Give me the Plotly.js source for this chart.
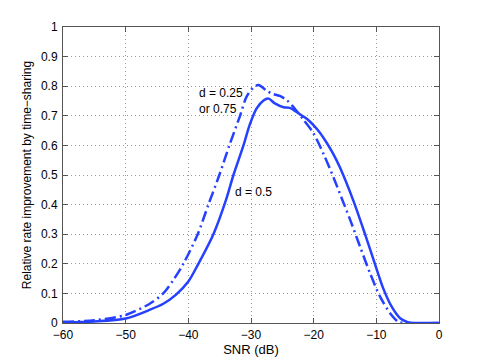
<!DOCTYPE html>
<html>
<head>
<meta charset="utf-8">
<script src="https://cdn.plot.ly/plotly-3.0.1.min.js"></script>
<style>
  html, body { margin: 0; padding: 0; background: #fff; }
  #chart { width: 485px; height: 364px; }
</style>
</head>
<body>
<div id="chart"></div>
<script>
// SNR (dB) vs relative rate improvement
const snrHalf = [-60, -55, -50, -46.1, -44, -42, -40, -38.4, -36.0, -34.0, -32.8, -31.2, -30.2, -29.1, -28.0, -27.2, -26.2, -24.8, -23.8, -22.2, -21.1, -20.0, -19.0, -17.9, -16.9, -15.8, -13.7, -11.8, -10.2, -8.9, -7.55, -6.2, -4.9, -4, 0];
const rateHalf = [0.002, 0.005, 0.015, 0.045, 0.065, 0.095, 0.14, 0.2, 0.3, 0.415, 0.5, 0.6, 0.67, 0.725, 0.752, 0.758, 0.742, 0.729, 0.727, 0.705, 0.69, 0.668, 0.643, 0.608, 0.572, 0.525, 0.415, 0.3, 0.198, 0.117, 0.055, 0.016, 0.002, 0, 0];

const snrQuarter = [-60, -55, -50, -46.1, -44.0, -42.4, -40.8, -38.5, -36.8, -35.05, -33.45, -31.75, -30.7, -29.6, -28.8, -27.5, -26.7, -25.4, -24.3, -23.5, -21.6, -20.0, -18.4, -16.8, -15.5, -14.2, -12.6, -11.0, -9.4, -7.8, -6.5, -5.5, 0];
const rateQuarter = [0.004, 0.009, 0.027, 0.066, 0.1, 0.145, 0.2, 0.3, 0.4, 0.5, 0.6, 0.7, 0.765, 0.796, 0.804, 0.785, 0.775, 0.767, 0.753, 0.736, 0.686, 0.64, 0.57, 0.49, 0.42, 0.35, 0.258, 0.168, 0.089, 0.033, 0.004, 0, 0];

const xTicks = [-60, -50, -40, -30, -20, -10, 0];
const yTicks = [0, 0.1, 0.2, 0.3, 0.4, 0.5, 0.6, 0.7, 0.8, 0.9, 1];

const blue = '#2540ff';

const traces = [
    {
        x: snrQuarter, y: rateQuarter, type: 'scatter', mode: 'lines',
        line: {color: blue, width: 2.5, dash: '11px,4px,2px,4px', shape: 'spline', smoothing: 0.8}
    },
    {
        x: snrHalf, y: rateHalf, type: 'scatter', mode: 'lines',
        line: {color: blue, width: 2.5, shape: 'spline', smoothing: 0.8}
    }
];

const axisStyle = {
    showline: true, mirror: 'ticks', linecolor: '#555', linewidth: 1,
    ticks: 'inside', ticklen: 5, tickcolor: '#555',
    showgrid: true, gridcolor: '#9a9a9a', griddash: '1px,3px', gridwidth: 1,
    zeroline: false, tickfont: {size: 12, color: '#000'}
};

const layout = {
    width: 485, height: 364,
    margin: {l: 63, r: 46, t: 27, b: 41},
    paper_bgcolor: '#fff', plot_bgcolor: '#fff',
    font: {family: 'Liberation Sans, Arial, sans-serif', color: '#000'},
    showlegend: false,
    xaxis: Object.assign({}, axisStyle, {
        range: [-60, 0], tickvals: xTicks, ticklabelstandoff: 1,
        title: {text: 'SNR (dB)', font: {size: 13}, standoff: 2}
    }),
    yaxis: Object.assign({}, axisStyle, {
        range: [0, 1], tickvals: yTicks, ticklabelstandoff: 2,
        title: {text: 'Relative rate improvement by time\u2212sharing', font: {size: 12}, standoff: 6}
    }),
    annotations: [
        {x: -38.6, y: 0.75, xref: 'x', yref: 'y', xanchor: 'left', yanchor: 'middle', align: 'left',
         text: 'd = 0.25<br>or 0.75', showarrow: false, font: {size: 12}},
        {x: -32.9, y: 0.444, xref: 'x', yref: 'y', xanchor: 'left', yanchor: 'middle',
         text: 'd = 0.5', showarrow: false, font: {size: 12}}
    ]
};

Plotly.newPlot('chart', traces, layout, {displayModeBar: false, staticPlot: true});
</script>
</body>
</html>
